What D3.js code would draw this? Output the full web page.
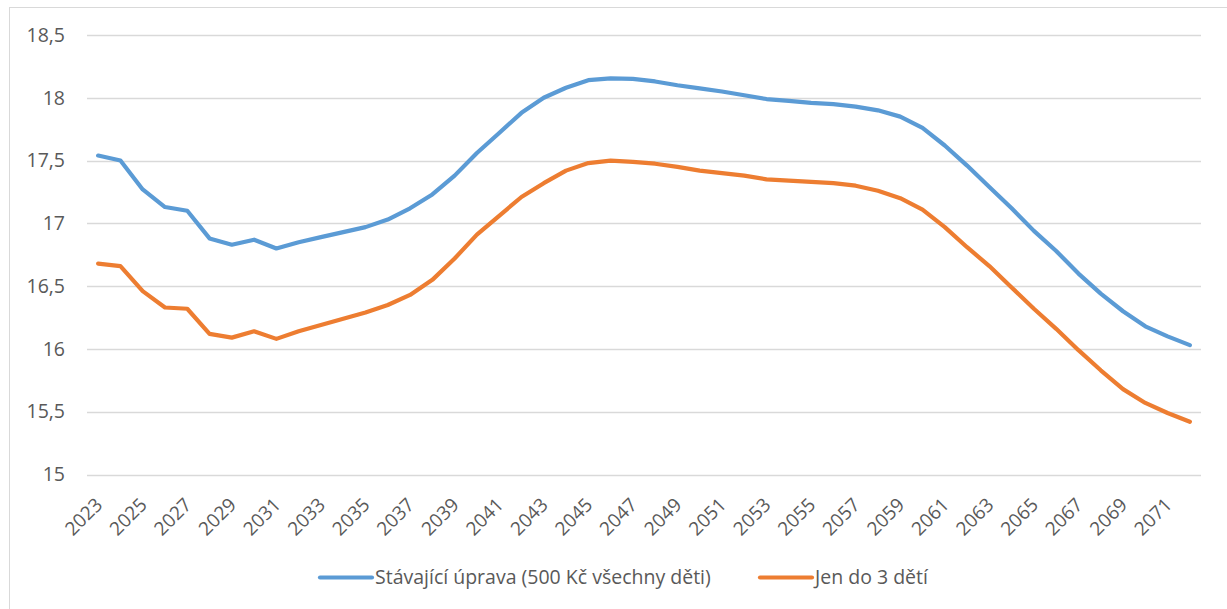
<!DOCTYPE html>
<html>
<head>
<meta charset="utf-8">
<script src="https://cdn.jsdelivr.net/npm/d3@7"></script>
<style>
  body { margin: 0; background: #fff; }
  svg { display: block; font-family: "Open Sans", sans-serif; }
</style>
</head>
<body>
<svg id="chart" width="1227" height="609"></svg>
<script>
const years = d3.range(2023, 2073);

const yTicks = [15, 15.5, 16, 16.5, 17, 17.5, 18, 18.5];

const seriesNames = ["Stávající úprava (500 Kč všechny děti)", "Jen do 3 dětí"];
const seriesColors = ["#5B9BD5", "#ED7D31"];

const currentRule = [
  17.54, 17.50, 17.27, 17.13, 17.10, 16.88, 16.83, 16.87, 16.80, 16.85,
  16.89, 16.93, 16.97, 17.03, 17.12, 17.23, 17.38, 17.56, 17.72, 17.88,
  18.00, 18.08, 18.14, 18.155, 18.15, 18.13, 18.10, 18.075, 18.05, 18.02,
  17.99, 17.975, 17.96, 17.95, 17.93, 17.90, 17.85, 17.76, 17.62, 17.46,
  17.29, 17.12, 16.94, 16.78, 16.60, 16.44, 16.30, 16.18, 16.10, 16.03
];

const upToThree = [
  16.68, 16.66, 16.46, 16.33, 16.32, 16.12, 16.09, 16.14, 16.08, 16.14,
  16.19, 16.24, 16.29, 16.35, 16.43, 16.55, 16.72, 16.91, 17.06, 17.21,
  17.32, 17.42, 17.48, 17.50, 17.49, 17.475, 17.45, 17.42, 17.40, 17.38,
  17.35, 17.34, 17.33, 17.32, 17.30, 17.26, 17.20, 17.11, 16.97, 16.81,
  16.66, 16.49, 16.32, 16.16, 15.99, 15.83, 15.68, 15.57, 15.49, 15.42
];

const series = [currentRule, upToThree];

const svg = d3.select("#chart");

// chart frame
svg.append("rect")
  .attr("x", 9.5).attr("y", 7.5)
  .attr("width", 1240).attr("height", 620)
  .attr("fill", "none")
  .attr("stroke", "#d9d9d9");

const x = d3.scalePoint()
  .domain(years)
  .range([87, 1201])
  .padding(0.5);

const y = d3.scaleLinear()
  .domain([15, 18.5])
  .range([474.5, 35]);

const fmt = v => String(v).replace(".", ",");

// gridlines
svg.append("g")
  .selectAll("line")
  .data(yTicks)
  .join("line")
  .attr("x1", 87).attr("x2", 1201)
  .attr("y1", d => Math.round(y(d)) + 0.5)
  .attr("y2", d => Math.round(y(d)) + 0.5)
  .attr("stroke", "#d9d9d9")
  .attr("stroke-width", 1.5);

// y axis labels
const yAxis = d3.axisLeft(y).tickValues(yTicks).tickFormat(fmt).tickSize(0).tickPadding(0);
svg.append("g")
  .attr("transform", "translate(65,0)")
  .call(yAxis)
  .call(g => g.select(".domain").remove())
  .selectAll("text")
  .attr("fill", "#595959")
  .style("font-family", "Open Sans, sans-serif")
  .style("font-size", "19.5px");

// x axis labels, every other year
const xAxis = d3.axisBottom(x)
  .tickValues(years.filter((d, i) => i % 2 === 0))
  .tickSize(0)
  .tickPadding(0);
svg.append("g")
  .attr("transform", "translate(0,474)")
  .call(xAxis)
  .call(g => g.select(".domain").remove())
  .selectAll("text")
  .attr("fill", "#595959")
  .style("font-family", "Open Sans, sans-serif")
  .style("font-size", "19px")
  .attr("text-anchor", "end")
  .attr("dy", 0)
  .attr("y", 0)
  .attr("transform", "translate(5,32) rotate(-45)");

// lines
const line = d3.line()
  .x((d, i) => x(years[i]))
  .y(d => y(d));

svg.append("g")
  .selectAll("path")
  .data(series)
  .join("path")
  .attr("d", line)
  .attr("fill", "none")
  .attr("stroke", (d, i) => seriesColors[i])
  .attr("stroke-width", 4.2)
  .attr("stroke-linejoin", "round")
  .attr("stroke-linecap", "round");

// legend
const legendX = [320, 760];
const legend = svg.append("g")
  .selectAll("g")
  .data(seriesNames)
  .join("g")
  .attr("transform", (d, i) => `translate(${legendX[i]},577.5)`);

legend.append("line")
  .attr("x1", 0).attr("x2", 52)
  .attr("stroke", (d, i) => seriesColors[i])
  .attr("stroke-width", 4.2)
  .attr("stroke-linecap", "round");

legend.append("text")
  .attr("x", 55)
  .attr("dy", "0.35em")
  .attr("fill", "#595959")
  .style("font-size", "19.5px")
  .text(d => d);
</script>
</body>
</html>
